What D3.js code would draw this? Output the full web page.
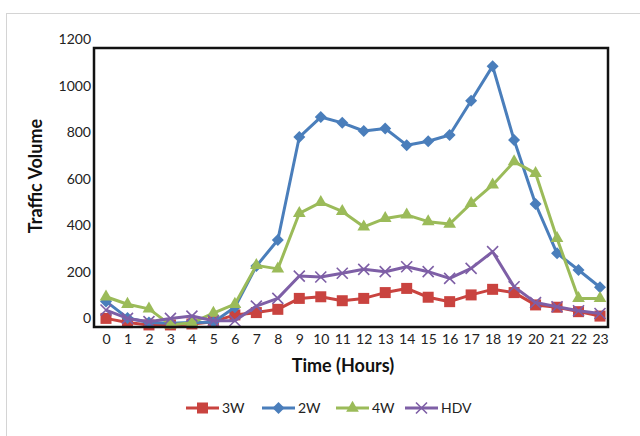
<!DOCTYPE html>
<html>
<head>
<meta charset="utf-8">
<script src="https://cdn.jsdelivr.net/npm/d3@7"></script>
<style>
  body { margin: 0; background: #fff; }
  text { font-family: Lato, "Open Sans", sans-serif; }
</style>
</head>
<body>
<svg width="640" height="436"></svg>
<script>
// hours of the day (categories)
const hours = [0, 1, 2, 3, 4, 5, 6, 7, 8, 9, 10, 11, 12, 13, 14, 15, 16, 17, 18, 19, 20, 21, 22, 23];

// traffic volume per hour
const w3  = [37, 19, 9, 9, 13, 23, 52, 62, 76, 123, 130, 113, 123, 148, 166, 128, 109, 138, 162, 148, 95, 85, 66, 47];
const w2  = [110, 39, 19, 16, 19, 20, 85, 262, 374, 817, 903, 878, 843, 854, 782, 799, 826, 973, 1122, 804, 529, 317, 245, 171];
const w4  = [130, 98, 78, 9, 18, 60, 98, 265, 250, 489, 536, 497, 431, 467, 482, 453, 443, 532, 611, 711, 661, 381, 123, 123];
const hdv = [73, 37, 23, 37, 47, 27, 27, 90, 123, 219, 215, 231, 248, 238, 259, 238, 209, 252, 324, 173, 105, 87, 70, 58];

const yTicks = [0, 200, 400, 600, 800, 1000, 1200];

const series = [
    { name: "3W",  values: w3,  color: "#C9433F", marker: "square" },
    { name: "2W",  values: w2,  color: "#4A7EBB", marker: "diamond" },
    { name: "4W",  values: w4,  color: "#9BBB59", marker: "triangle" },
    { name: "HDV", values: hdv, color: "#7E5FA6", marker: "x" }
];

const svg = d3.select("svg"),
    margin = { top: 48, right: 32, bottom: 109, left: 94 },
    width = +svg.attr("width") - margin.left - margin.right,
    height = +svg.attr("height") - margin.top - margin.bottom;

// light outer chart border
svg.append("rect")
    .attr("x", 6.5).attr("y", 13.5)
    .attr("width", 700).attr("height", 500)
    .attr("fill", "none")
    .attr("stroke", "#d4d4d4");

const g = svg.append("g").attr("transform", `translate(${margin.left},${margin.top})`);

const x = d3.scalePoint().domain(hours).range([12, width - 8]),
    y = d3.scaleLinear().domain([0, 1200]).range([height, 0]);

// draw a marker of a given kind
function drawMarker(sel, kind, color) {
    if (kind === "square") {
        sel.append("rect")
            .attr("x", -5.5).attr("y", -5.5)
            .attr("width", 11).attr("height", 11)
            .attr("fill", color);
    } else if (kind === "diamond") {
        sel.append("path")
            .attr("d", "M0,-6L6,0L0,6L-6,0Z")
            .attr("fill", color);
    } else if (kind === "triangle") {
        sel.append("path")
            .attr("d", d3.symbol(d3.symbolTriangle, 70)())
            .attr("fill", color);
    } else {
        sel.append("path")
            .attr("d", "M-5.5,-5.5L5.5,5.5M-5.5,5.5L5.5,-5.5")
            .attr("stroke", color)
            .attr("stroke-width", 1.6);
    }
}

const line = d3.line().x((d, i) => x(hours[i])).y(d => y(d));

series.forEach(s => {
    g.append("path")
        .datum(s.values)
        .attr("d", line)
        .attr("fill", "none")
        .attr("stroke", s.color)
        .attr("stroke-width", 3)
        .attr("stroke-linejoin", "round");

    g.selectAll(null)
        .data(s.values)
        .join("g")
        .attr("transform", (d, i) => `translate(${x(hours[i])},${y(d)})`)
        .each(function () { drawMarker(d3.select(this), s.marker, s.color); });
});

// plot frame
g.append("rect")
    .attr("width", width).attr("height", height)
    .attr("fill", "none")
    .attr("stroke", "#111")
    .attr("stroke-width", 2.5);

// Y axis labels
g.append("g")
    .call(d3.axisLeft(y).tickValues(yTicks).tickFormat(d3.format("d")).tickSize(0).tickPadding(3))
    .call(a => a.select(".domain").remove())
    .selectAll("text")
    .attr("dy", "-0.3em")
    .attr("font-size", "14px")
    .attr("fill", "#222");

// X axis labels
g.append("g")
    .attr("transform", `translate(0,${height})`)
    .call(d3.axisBottom(x).tickSize(0).tickPadding(7))
    .call(a => a.select(".domain").remove())
    .selectAll("text")
    .attr("font-size", "14px")
    .attr("fill", "#222");

// axis titles
svg.append("text")
    .attr("transform", "translate(42,176) rotate(-90)")
    .attr("text-anchor", "middle")
    .attr("font-size", "18px")
    .attr("font-weight", "bold")
    .attr("fill", "#111")
    .text("Traffic Volume");

svg.append("text")
    .attr("x", 343).attr("y", 372)
    .attr("text-anchor", "middle")
    .attr("font-size", "18px")
    .attr("font-weight", "bold")
    .attr("fill", "#111")
    .text("Time (Hours)");

// legend
const legendX = [186, 262, 336, 405];
const legend = svg.append("g").attr("transform", "translate(0,408)");
series.forEach((s, i) => {
    const item = legend.append("g").attr("transform", `translate(${legendX[i]},0)`);
    item.append("line")
        .attr("x1", 0).attr("x2", 33)
        .attr("stroke", s.color)
        .attr("stroke-width", 3);
    drawMarker(item.append("g").attr("transform", "translate(16.5,0)"), s.marker, s.color);
    item.append("text")
        .attr("x", 36).attr("dy", "0.35em")
        .attr("font-size", "14px")
        .attr("fill", "#222")
        .text(s.name);
});
</script>
</body>
</html>
